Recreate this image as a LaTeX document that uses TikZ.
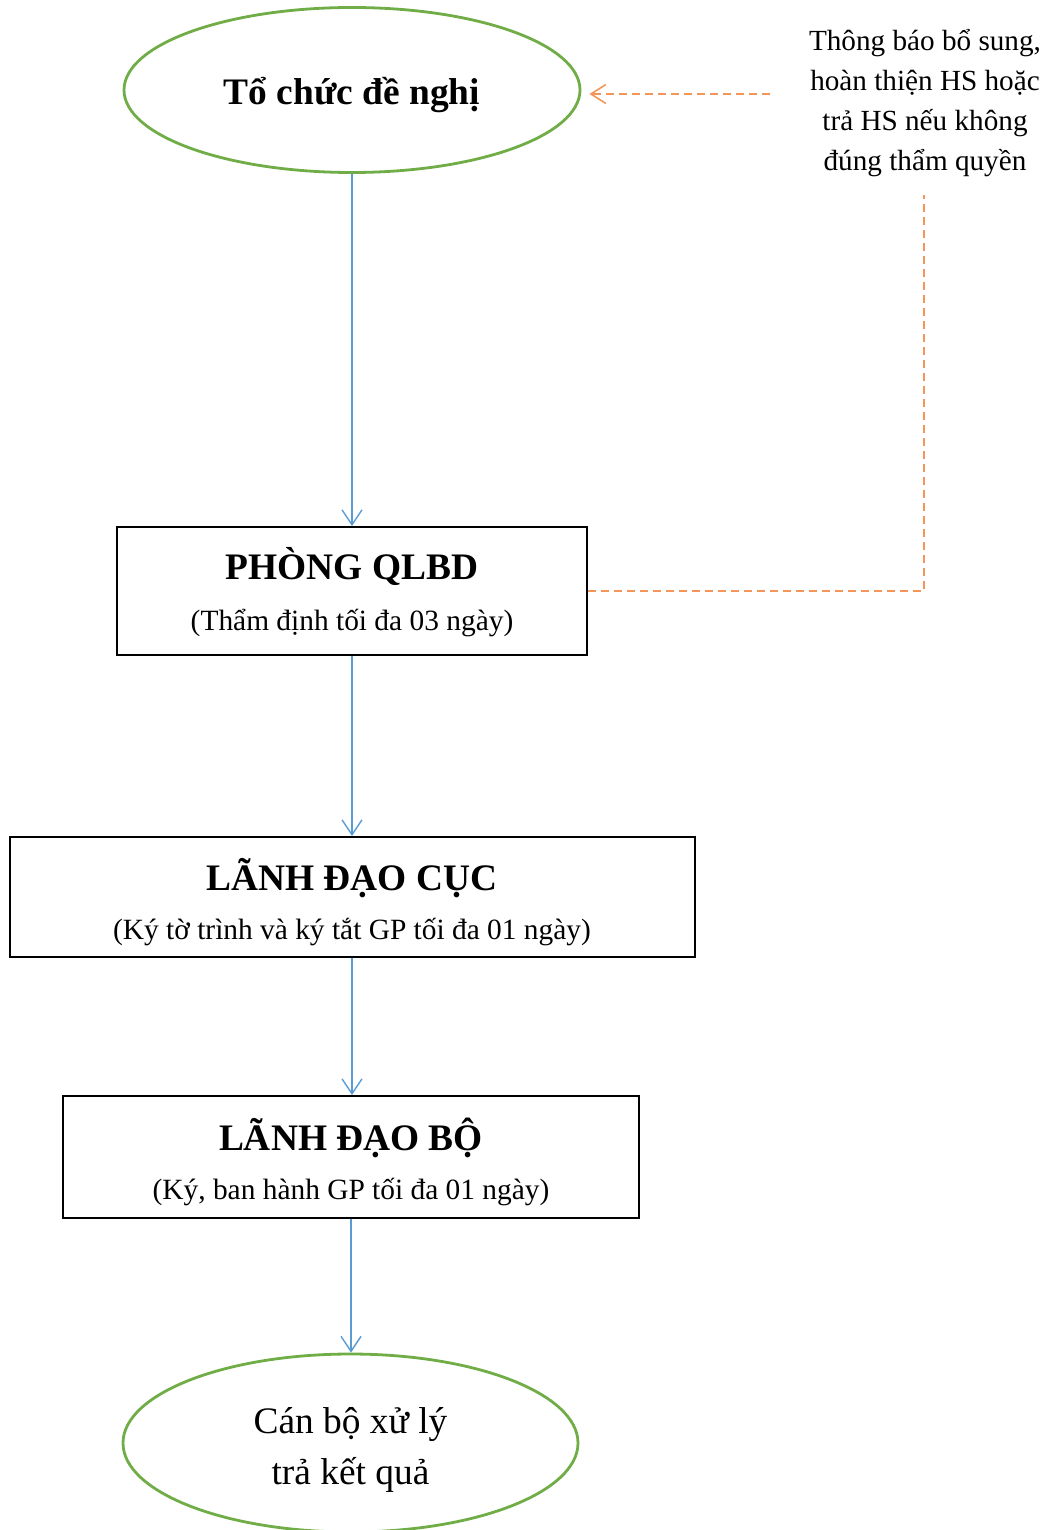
\documentclass[tikz,border=0pt]{standalone}
\usepackage{fontspec}
\setmainfont{Liberation Serif}
\usetikzlibrary{shapes.geometric,arrows.meta}
\definecolor{flowblue}{RGB}{91,155,213}
\definecolor{flowgreen}{RGB}{112,173,71}
\definecolor{floworange}{RGB}{244,150,90}
\tikzset{
  ovalnode/.style={draw=flowgreen, line width=1.4pt, ellipse, inner sep=0pt},
  boxnode/.style={draw=black, line width=0.9pt, rectangle, inner sep=0pt},
  ttl/.style={anchor=base, inner sep=0pt, font=\fontsize{18.7}{21}\selectfont\bfseries},
  sub/.style={anchor=base, inner sep=0pt, font=\fontsize{14.7}{17}\selectfont},
  big/.style={anchor=base, inner sep=0pt, font=\fontsize{18.7}{21}\selectfont},
  note/.style={anchor=base, inner sep=0pt, font=\fontsize{14.6}{17}\selectfont},
  flow/.style={draw=flowblue, line width=0.7pt, -{Straight Barb[length=7.5pt,width=10pt,line width=0.7pt]}},
  back/.style={draw=floworange, line width=0.8pt, dash pattern=on 4pt off 2.5pt},
}
\begin{document}
\begin{tikzpicture}[x=0.5pt,y=-0.5pt]
\useasboundingbox (0,0) rectangle (1052,1530);
% shapes
\node[ovalnode, minimum width=228pt, minimum height=82.5pt] (e1) at (352,90) {};
\node[boxnode, minimum width=235pt, minimum height=64pt] (b1) at (352,591) {};
\node[boxnode, minimum width=342.5pt, minimum height=60pt] (b2) at (352.5,897) {};
\node[boxnode, minimum width=288pt, minimum height=61pt] (b3) at (351,1157) {};
\node[ovalnode, minimum width=227.5pt, minimum height=89pt] (e2) at (350.5,1443) {};
% texts
\node[ttl] (t1) at (352,105) {Tổ chức đề nghị};
\node[ttl] (t2) at (352,579.5) {PHÒNG QLBD};
\node[sub] (s2) at (352,630.5) {(Thẩm định tối đa 03 ngày)};
\node[ttl] (t3) at (352,890.5) {LÃNH ĐẠO CỤC};
\node[sub] (s3) at (352,939.5) {(Ký tờ trình và ký tắt GP tối đa 01 ngày)};
\node[ttl] (t4) at (351,1150.5) {LÃNH ĐẠO BỘ};
\node[sub] (s4) at (351,1199.5) {(Ký, ban hành GP tối đa 01 ngày)};
\node[big] (t5) at (350.5,1433.5) {Cán bộ xử lý};
\node[big] (t6) at (350.5,1484.5) {trả kết quả};
\node[note] (n1) at (925,51) {Thông báo bổ sung,};
\node[note] (n2) at (925,91) {hoàn thiện HS hoặc};
\node[note] (n3) at (925,131) {trả HS nếu không};
\node[note] (n4) at (925,171) {đúng thẩm quyền};
% flow connectors
\draw[flow] (e1.south) -- (b1.north);
\draw[flow] (b1.south) -- (b2.north -| b1.south);
\draw[flow] (b2.south -| b1.south) -- (b3.north -| b1.south);
\draw[flow] (b3.south) -- (e2.north -| b3.south);
% feedback
\coordinate (fbtop) at (924,195);
\coordinate (fbarr) at (770,94);
\draw[back] (b1.east) -- (fbtop |- b1.east) -- (fbtop);
\draw[back, -{Straight Barb[length=7.5pt,width=9.5pt,line width=0.8pt]}, shorten >=4pt] (fbarr) -- (fbarr -| e1.east);
\end{tikzpicture}
\end{document}
